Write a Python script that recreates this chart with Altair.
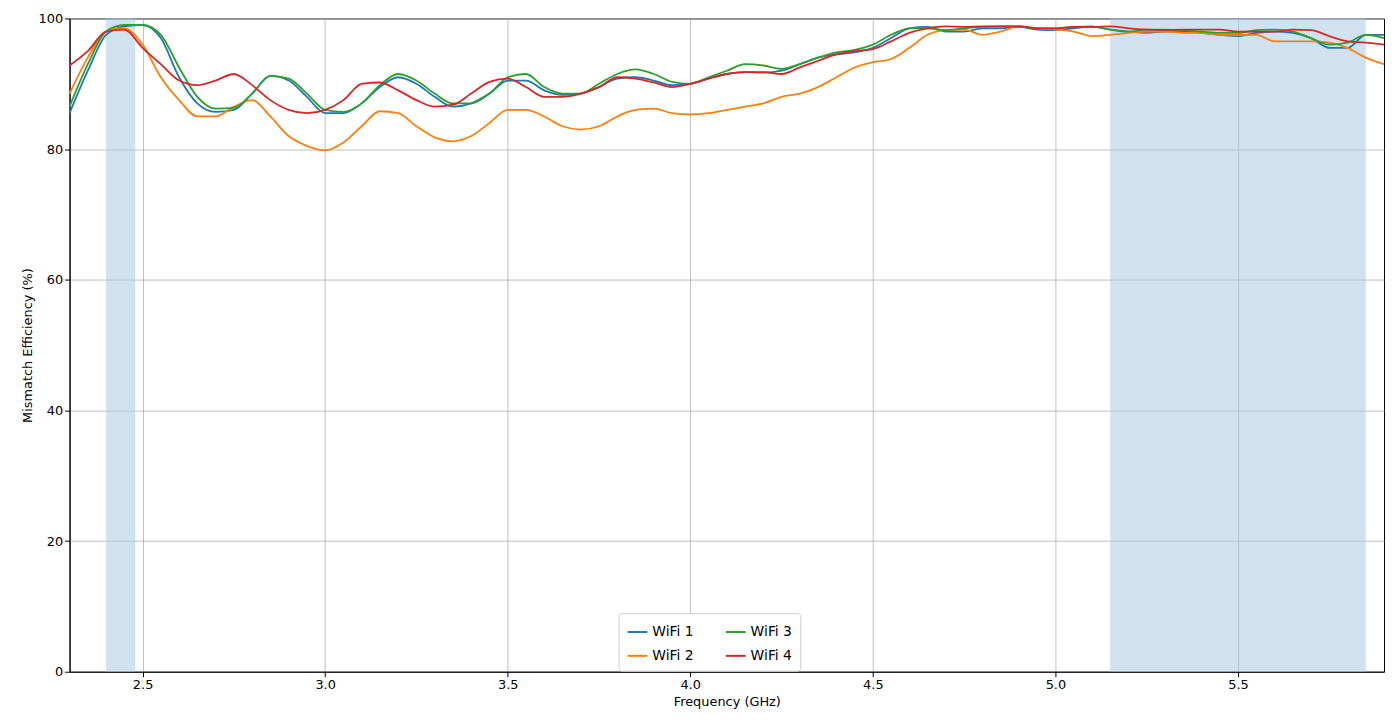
import altair as alt
import pandas as pd

freq = [round(2.3 + 0.05 * i, 2) for i in range(73)]

wifi1 = [85.5, 92, 97.5, 98.8, 99, 97, 91, 87, 85.7, 86, 88.5, 91.2, 90.5, 88, 85.5, 85.5, 87, 89.5, 91, 90,
         88, 86.5, 87, 88.5, 90.5, 90.5, 89, 88.3, 88.5, 89.5, 90.8, 91, 90.5, 89.8, 90, 90.8, 91.5, 91.8, 91.7, 92,
         93, 94, 94.5, 94.8, 95.5, 97, 98.5, 98.7, 98, 98, 98.5, 98.5, 98.7, 98.3, 98.2, 98.5, 98.7, 98.3, 98, 97.8,
         98, 98, 97.8, 97.5, 97.3, 97.8, 98, 97.8, 97, 95.5, 95.5, 97.5, 97.5]
wifi2 = [88.5, 94, 98, 98.5, 96, 91, 87.5, 85, 85, 86.5, 87.5, 85, 82, 80.5, 79.8, 81, 83.5, 85.8, 85.5, 83.5,
         81.8, 81.2, 82, 84, 86, 86, 85, 83.5, 83, 83.5, 85, 86, 86.2, 85.5, 85.3, 85.5, 86, 86.5, 87, 88,
         88.5, 89.5, 91, 92.5, 93.3, 93.8, 95.5, 97.5, 98.2, 98.3, 97.5, 98, 98.8, 98.5, 98.3, 98, 97.3, 97.5, 97.8, 98,
         98, 97.8, 97.8, 97.5, 97.5, 97.5, 96.5, 96.5, 96.5, 96.3, 95.5, 94, 93]
wifi3 = [86.5, 93, 98, 99, 99, 97.5, 92.5, 88, 86.2, 86.3, 88.5, 91.2, 90.8, 88.5, 86, 85.7, 87, 89.8, 91.5, 90.5,
         88.5, 87, 87, 88.5, 91, 91.5, 89.5, 88.5, 88.5, 90, 91.5, 92.2, 91.5, 90.3, 90, 91, 92, 93, 92.8, 92.3,
         93, 94, 94.8, 95.2, 96, 97.5, 98.5, 98.5, 98.2, 98.5, 98.7, 98.8, 98.8, 98.5, 98.5, 98.7, 98.8, 98.3, 98, 98.3,
         98.3, 98.2, 98, 97.8, 97.8, 98.2, 98.3, 98, 97, 96, 96.3, 97.5, 97]
wifi4 = [92.8, 95, 98, 98.3, 95.5, 93, 90.5, 89.8, 90.5, 91.5, 89.8, 87.5, 86, 85.5, 86, 87.5, 90, 90.2, 89, 87.5,
         86.5, 86.8, 88.5, 90.3, 90.8, 89.5, 88, 88, 88.5, 89.5, 91, 90.8, 90.2, 89.5, 90, 90.8, 91.5, 91.8, 91.8, 91.5,
         92.5, 93.5, 94.5, 95, 95.3, 96.5, 97.8, 98.5, 98.8, 98.7, 98.8, 98.8, 98.8, 98.5, 98.5, 98.7, 98.7, 98.8, 98.5, 98.3,
         98.2, 98.3, 98.3, 98.3, 98, 98, 98, 98.3, 98.2, 97.3, 96.5, 96.3, 96]

band_start = [2.4, 5.15]
band_end = [2.48, 5.85]

series = {"WiFi 1": wifi1, "WiFi 2": wifi2, "WiFi 3": wifi3, "WiFi 4": wifi4}
rows = [{"f": f, "eff": v, "ant": name} for name, vals in series.items() for f, v in zip(freq, vals)]
df = pd.DataFrame(rows)
bands = pd.DataFrame({"start": band_start, "end": band_end})

xscale = alt.Scale(domain=[2.3, 5.9], nice=False, zero=False)
yscale = alt.Scale(domain=[0, 100], nice=False)

shade = alt.Chart(bands).mark_rect(color="#a9c9e2", opacity=0.55).encode(
    x=alt.X("start:Q", scale=xscale),
    x2="end:Q",
)

lines = alt.Chart(df).mark_line(strokeWidth=1.8, interpolate="monotone").encode(
    x=alt.X("f:Q", scale=xscale, title="Frequency (GHz)",
            axis=alt.Axis(values=[2.5, 3.0, 3.5, 4.0, 4.5, 5.0, 5.5], format=".1f")),
    y=alt.Y("eff:Q", scale=yscale, title="Mismatch Efficiency (%)",
            axis=alt.Axis(values=[0, 20, 40, 60, 80, 100])),
    color=alt.Color("ant:N", title=None,
                    scale=alt.Scale(domain=list(series), range=["#1f77b4", "#ff7f0e", "#2ca02c", "#d62728"]),
                    legend=alt.Legend(orient="none", legendX=553, legendY=599, columns=2,
                                      symbolType="stroke", symbolStrokeWidth=2, symbolSize=400,
                                      labelFontSize=14, fillColor="white", strokeColor="#cccccc",
                                      padding=8, columnPadding=28, rowPadding=6, cornerRadius=3)),
)

chart = (shade + lines).properties(width=1324, height=658, padding={"left": 13, "top": 2, "right": 0, "bottom": 0}).configure_axis(
    grid=True, gridColor="#b0b0b0", gridWidth=0.8, domainColor="black", tickColor="black",
    labelFontSize=13, titleFontSize=13, labelColor="black", titleColor="black",
    titleFontWeight="normal", labelFont="DejaVu Sans", titleFont="DejaVu Sans",
).configure_legend(labelFont="DejaVu Sans").configure_view(stroke="black")

chart.save("out.html", embed_options={"renderer": "svg", "actions": False})
